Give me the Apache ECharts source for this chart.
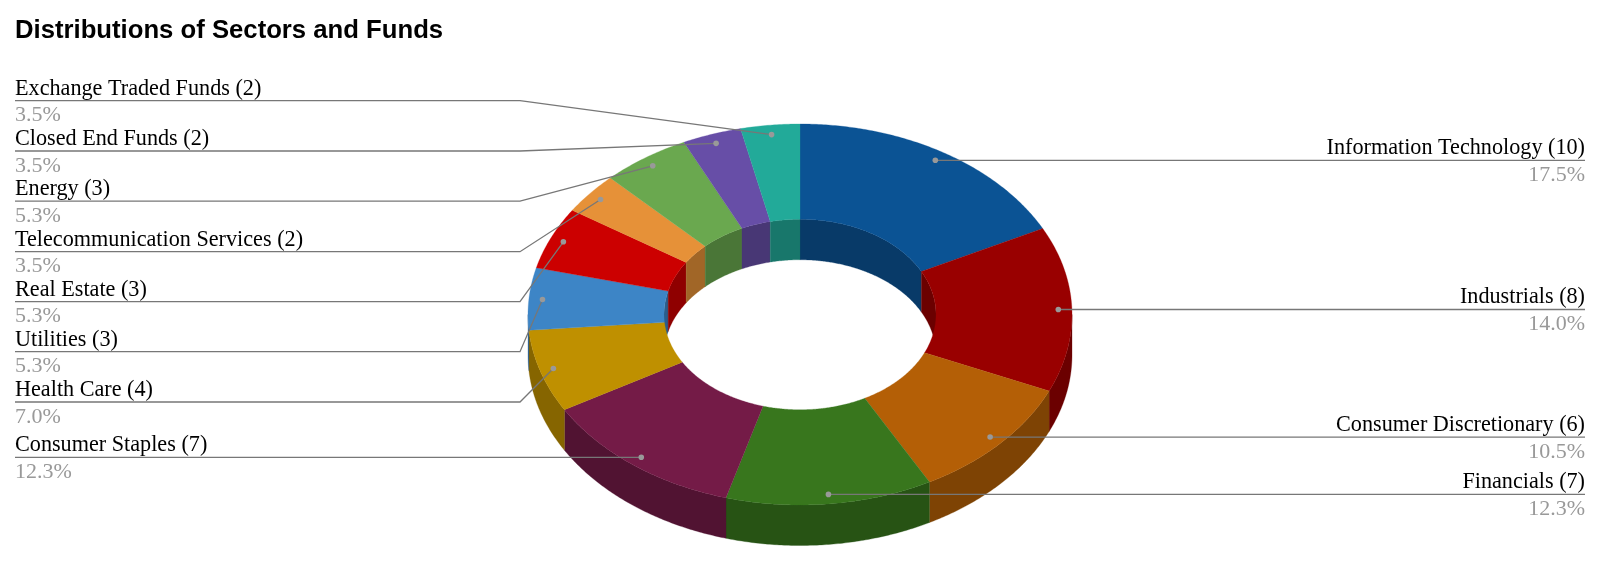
<!DOCTYPE html>
<html>
<head>
<meta charset="utf-8">
<style>html,body{margin:0;padding:0;background:#fff}#chart{width:1600px;height:567px}</style>
<script src="https://cdn.jsdelivr.net/npm/echarts@6/dist/echarts.min.js"></script>
</head>
<body>
<div id="chart"></div>
<script>
const titleText = 'Distributions of Sectors and Funds';
const categories = ['Information Technology','Industrials','Consumer Discretionary','Financials','Consumer Staples','Health Care','Utilities','Real Estate','Telecommunication Services','Energy','Closed End Funds','Exchange Traded Funds'];
const counts = [10,8,6,7,7,4,3,3,2,3,2,2];
const percents = ['17.5%','14.0%','10.5%','12.3%','12.3%','7.0%','5.3%','5.3%','3.5%','5.3%','3.5%','3.5%'];
const colors = ['#0b5394','#990000','#b45f06','#38761d','#741b47','#bf9000','#3d85c6','#cc0000','#e69138','#6aa84f','#674ea7','#22aa99'];

// layout of the tilted ring
const CX = 800, CY = 314.5, RX = 272, RY = 190.5, HOLE = 0.5, DEPTH = 40.5, DOT_R = 0.95;
// y of the left-hand label rules (bottom-most one runs straight to its dot)
const leftRuleY = {11:100.7, 10:151, 9:201.2, 8:251.7, 7:301.7, 6:351.7, 5:402, 4:457.3};
const ELBOW_X = 520, LEFT_X = 15, RIGHT_X = 1585;
const NAME_FONT = '22.2px "Liberation Serif", serif';
const PCT_FONT = '22px "Liberation Serif", serif';

const total = counts.reduce((a, b) => a + b, 0);
const starts = [];
counts.reduce((acc, v, i) => { starts[i] = acc; return acc + v; }, 0);
const ang = v => v / total * 360;
const pt = (deg, k, dy) => {
  const t = deg * Math.PI / 180;
  return [CX + RX * k * Math.sin(t), CY - RY * k * Math.cos(t) + (dy || 0)];
};
const arc = (a, b, k, dy) => {
  const out = [], n = Math.max(2, Math.ceil(Math.abs(b - a) * 2));
  for (let i = 0; i <= n; i++) out.push(pt(a + (b - a) * i / n, k, dy));
  return out;
};
function shade(hex, f) {
  const n = parseInt(hex.slice(1), 16);
  const c = s => Math.round(((n >> s) & 255) * f);
  return 'rgb(' + c(16) + ',' + c(8) + ',' + c(0) + ')';
}
const range = i => [ang(starts[i]), ang(starts[i] + counts[i])];
const wall = (a, b, k, color) => ({
  type: 'polygon',
  shape: { points: arc(a, b, k, 0).concat(arc(b, a, k, DEPTH)) },
  style: { fill: color, stroke: color, lineWidth: 0.3 }
});

function renderInnerWall(p) {
  const [a, b] = range(p.dataIndex), kids = [], col = shade(colors[p.dataIndex], 0.7);
  if (a < 90) kids.push(wall(a, Math.min(b, 90), HOLE, col));
  if (b > 270) kids.push(wall(Math.max(a, 270), b, HOLE, col));
  return { type: 'group', children: kids };
}
function renderOuterWall(p) {
  const [a, b] = range(p.dataIndex), kids = [], col = shade(colors[p.dataIndex], 0.7);
  const s = Math.max(a, 90), e = Math.min(b, 270);
  if (e > s) kids.push(wall(s, e, 1, col));
  return { type: 'group', children: kids };
}
function renderTop(p) {
  const [a, b] = range(p.dataIndex), col = colors[p.dataIndex];
  return {
    type: 'polygon',
    shape: { points: arc(a, b, 1).concat(arc(b, a, HOLE)) },
    style: { fill: col, stroke: col, lineWidth: 0.3 }
  };
}
function renderLabel(p) {
  const i = p.dataIndex, [a, b] = range(i), dot = pt((a + b) / 2, DOT_R);
  const left = (a + b) / 2 > 180;
  const y = left ? leftRuleY[i] : dot[1];
  const xEnd = left ? LEFT_X : RIGHT_X;
  const pts = left ? [[LEFT_X, y], [ELBOW_X, y], dot] : [[RIGHT_X, y], dot];
  if (left && Math.abs(y - dot[1]) < 0.5) pts.splice(1, 1);
  const align = left ? 'left' : 'right';
  return {
    type: 'group',
    children: [
      { type: 'polyline', shape: { points: pts }, style: { stroke: '#777', lineWidth: 1.3, fill: null } },
      { type: 'circle', shape: { cx: dot[0], cy: dot[1], r: 2.8 }, style: { fill: '#999' } },
      { type: 'text', style: { text: categories[i] + ' (' + counts[i] + ')', x: xEnd, y: y - 1, font: NAME_FONT, fill: '#000', align: align, verticalAlign: 'bottom' } },
      { type: 'text', style: { text: percents[i], x: xEnd, y: y + 4, font: PCT_FONT, fill: '#999', align: align, verticalAlign: 'top' } }
    ]
  };
}

const layer = (name, renderItem, z) => ({
  type: 'custom', name: name, coordinateSystem: 'none', data: counts, renderItem: renderItem,
  z: z, silent: true, animation: false, clip: false
});

const chart = echarts.init(document.getElementById('chart'), null, { renderer: 'canvas' });
chart.setOption({
  animation: false,
  backgroundColor: '#fff',
  title: {
    text: titleText, left: 10, top: 13,
    textStyle: { fontFamily: '"Liberation Sans", Arial, sans-serif', fontSize: 25.7, fontWeight: 'bold', color: '#000' }
  },
  series: [
    layer('inner', renderInnerWall, 1),
    layer('outer', renderOuterWall, 2),
    layer('top', renderTop, 3),
    layer('labels', renderLabel, 4)
  ]
});
</script>
</body>
</html>
